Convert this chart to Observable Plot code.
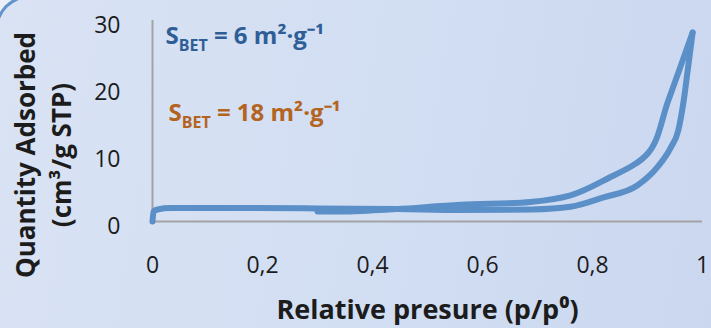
<!DOCTYPE html>
<html>
<head>
<meta charset="utf-8">
<script src="https://cdn.jsdelivr.net/npm/d3@7"></script>
<script src="https://cdn.jsdelivr.net/npm/@observablehq/plot@0.6"></script>
<style>
  html, body { margin: 0; padding: 0; background: #eaeff7; }
  #frame { position: relative; width: 711px; height: 328px; overflow: hidden; }
  #panel {
    position: absolute; left: -5px; top: -5px; width: 800px; height: 420px;
    border-top: 3px solid #6393cb; border-left: 3px solid #6393cb;
    border-top-left-radius: 35px;
    background: linear-gradient(100deg, #d9e3f4 0%, #d1ddf2 55%, #c8d5ee 100%);
  }
  #chart { position: absolute; left: 0; top: 0; }
</style>
</head>
<body>
<div id="frame"><div id="panel"></div><div id="chart"></div></div>
<script>
// N2 isotherm: adsorption branch (relative pressure p/p0, quantity cm3/g STP)
const adsorptionP = [0, 0.002, 0.009, 0.033, 0.18, 0.30, 0.445, 0.56, 0.69, 0.76, 0.82, 0.882, 0.918, 0.942, 0.956, 0.965, 0.973, 0.982];
const adsorptionQ = [0, 1.5, 1.8, 2.0, 2.0, 1.95, 1.85, 1.7, 1.8, 2.2, 3.6, 5.4, 8.1, 11.0, 13.6, 17.6, 22.5, 28.2];

// desorption branch
const desorptionP = [0.30, 0.36, 0.445, 0.56, 0.687, 0.76, 0.82, 0.902, 0.938, 0.982];
const desorptionQ = [1.5, 1.5, 1.85, 2.5, 2.9, 3.9, 6.1, 10.3, 18.1, 28.2];

const xTicks = [0, 0.2, 0.4, 0.6, 0.8, 1];
const yTicks = [0, 10, 20, 30];

const xTitle = "Relative presure (p/p⁰)";
const yTitle1 = "Quantity Adsorbed";
const yTitle2 = "(cm³/g STP)";
const bet1 = "6";
const bet2 = "18";

const adsorption = adsorptionP.map((p, i) => ({p, q: adsorptionQ[i]}));
const desorption = desorptionP.map((p, i) => ({p, q: desorptionQ[i]}));

const lineColor = "#5b8fc8";
const axisColor = "#a3a3a3";
const ink = "#1c1c1c";

const chart = Plot.plot({
  width: 711,
  height: 328,
  marginLeft: 152,
  marginRight: 9,
  marginTop: 20,
  marginBottom: 107,
  style: {background: "transparent", fontFamily: "'Open Sans', sans-serif", fontSize: "23px", color: ink},
  x: {domain: [0, 1]},
  y: {domain: [0, 30]},
  marks: [
    Plot.ruleX([0], {y1: 0, y2: 30, stroke: axisColor, strokeWidth: 2}),
    Plot.ruleY([0], {x1: 0, x2: 1, stroke: axisColor, strokeWidth: 2}),
    Plot.axisX(xTicks, {tickSize: 0, tickPadding: 35, label: null,
      tickFormat: d => String(d).replace(".", ",")}),
    Plot.axisY(yTicks, {tickSize: 0, tickPadding: 32, label: null, dy: 5}),
    Plot.line(adsorption, {x: "p", y: "q", stroke: lineColor, strokeWidth: 6,
      curve: "monotone-x", strokeLinejoin: "round", strokeLinecap: "round"}),
    Plot.line(desorption, {x: "p", y: "q", stroke: lineColor, strokeWidth: 6,
      curve: "catmull-rom", strokeLinejoin: "round"}),
    Plot.text([xTitle], {frameAnchor: "bottom", textAnchor: "middle", lineAnchor: "middle",
      dy: 89, fontSize: 27, fontWeight: "bold", fill: ink}),
    Plot.text([yTitle1], {frameAnchor: "left", textAnchor: "middle", lineAnchor: "middle", rotate: -90,
      dx: -126, dy: 34, fontSize: 26, fontWeight: "bold", fill: ink}),
    Plot.text([yTitle2], {frameAnchor: "left", textAnchor: "middle", lineAnchor: "middle", rotate: -90,
      dx: -90, dy: 34, fontSize: 26, fontWeight: "bold", fill: ink}),
    Plot.text(["SBET|" + bet1], {x: 0.0236, y: 27.7, textAnchor: "start", fontSize: 24, fontWeight: "bold", fill: "#2f5e97"}),
    Plot.text(["SBET|" + bet2], {x: 0.029, y: 16.2, textAnchor: "start", fontSize: 24, fontWeight: "bold", fill: "#b3641f"})
  ]
});

// rebuild the BET labels with a subscript and superscripts
d3.select(chart).selectAll("text")
  .filter(function () { return this.textContent.startsWith("SBET|"); })
  .each(function () {
    const value = this.textContent.split("|")[1];
    const t = d3.select(this);
    t.text(null);
    t.append("tspan").text("S");
    t.append("tspan").attr("font-size", 16).attr("dy", 7).text("BET");
    t.append("tspan").attr("dy", -7).text(" = " + value + " m²·g⁻¹");
  });

document.getElementById("chart").appendChild(chart);
</script>
</body>
</html>
